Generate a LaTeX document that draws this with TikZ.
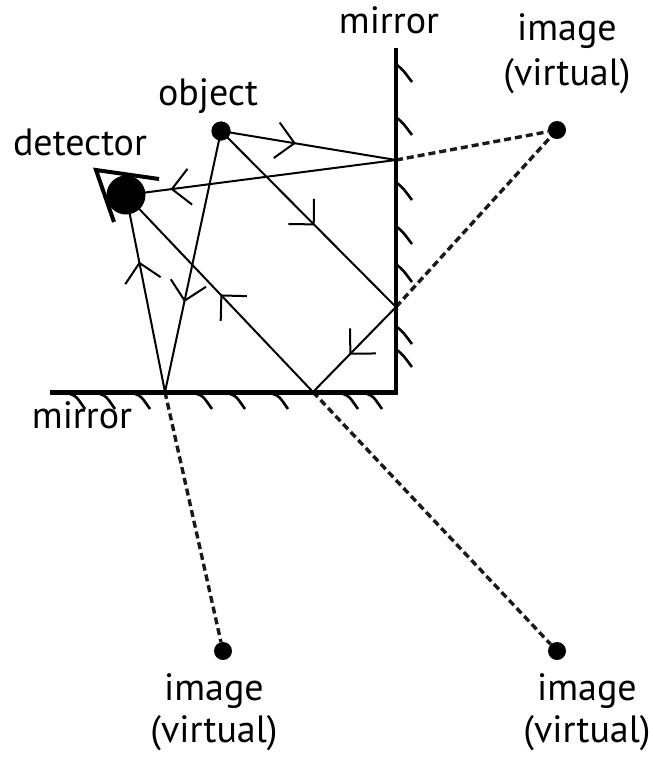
\documentclass[tikz,border=0pt]{standalone}
\usepackage{fontspec}
\setmainfont{PT Sans}
\usetikzlibrary{decorations.markings}
\begin{document}
\begin{tikzpicture}[x=1pt,y=-1pt,
  ray/.style={line width=2pt},
  virt/.style={line width=3.4pt, dash pattern=on 7pt off 4pt, draw=black!90},
  mirrorline/.style={line width=4.5pt},
  hatch/.style={line width=2.6pt},
  dot/.style={circle, fill=black, inner sep=0pt, minimum size=#1},
  lbl/.style={font=\fontsize{38}{46}\selectfont, inner sep=0pt, anchor=base},
  flow/.style={postaction={decorate}, decoration={markings,
    mark=at position #1 with {\draw[line width=2pt] (-18pt,18pt) -- (0pt,0pt) -- (-18pt,-18pt);}}},
]
\useasboundingbox (0,0) rectangle (653,761);

% points
\node[dot=19pt] (obj) at (221,131) {};
\coordinate (m1) at (396,160);
\coordinate (m2) at (396,307);
\coordinate (m3) at (313,392);
\coordinate (m4) at (165,392);
\node[dot=18pt] (i1) at (557,130) {};
\node[dot=18pt] (i2) at (223,651) {};
\node[dot=18pt] (i3) at (557,651) {};
\coordinate (det) at (126,195);

% virtual rays
\draw[virt] (m1) -- (i1);
\draw[virt] (m2) -- (i1);
\draw[virt] (m4) -- (i2);
\draw[virt] (m3) -- (i3);

% real rays
\draw[ray, flow=0.42] (obj.center) -- (m1);
\draw[ray, flow=0.83] (m1) -- (det);
\draw[ray, flow=0.53] (obj.center) -- (m2);
\draw[ray, flow=0.55] (m2) -- (m3);
\draw[ray, flow=0.49] (m3) -- (det);
\draw[ray, flow=0.65] (obj.center) -- (m4);
\draw[ray, flow=0.655] (m4) -- (det);

% detector
\node[dot=39pt] (detector) at (det) {};
\draw[line width=4pt] (159,179) -- (96,170) -- (114,222);
\node[dot=19pt] (objdot) at (obj) {};

% mirrors
\draw[mirrorline] (50,392.5) -- (396,392.5) -- (396,48);
\foreach \y in {65,118,183,227,265,327,350}
  \draw[hatch] (397,\y) .. controls (403,\y+5) .. (412,\y+17);
\foreach \x in {70,100,135,197,230,273,343,367}
  \draw[hatch] (\x,394) .. controls (\x+6,396) .. (\x+15,409);

% labels
\node[lbl] (tm) at (389,33) {mirror};
\node[lbl] (bm) at (82,428) {mirror};
\node[lbl] (ob) at (208,105) {object};
\node[lbl] (dt) at (80,155) {detector};
\node[lbl] (t1a) at (567,40) {image};
\node[lbl] (t1b) at (567,85) {(virtual)};
\node[lbl] (t2a) at (214,700) {image};
\node[lbl] (t2b) at (214,742) {(virtual)};
\node[lbl] (t3a) at (587,700) {image};
\node[lbl] (t3b) at (587,742) {(virtual)};
\end{tikzpicture}
\end{document}
